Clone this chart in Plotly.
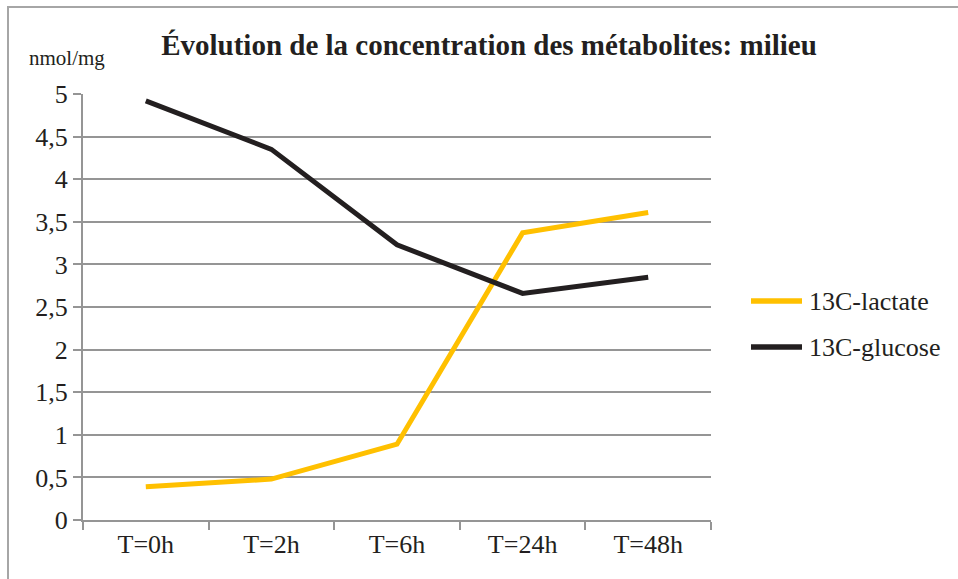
import plotly.graph_objects as go

# Sampling times and measured concentrations (nmol/mg)
times = ["T=0h", "T=2h", "T=6h", "T=24h", "T=48h"]
lactate = [0.39, 0.48, 0.89, 3.37, 3.61]
glucose = [4.92, 4.35, 3.23, 2.66, 2.85]
y_ticks = [0, 0.5, 1, 1.5, 2, 2.5, 3, 3.5, 4, 4.5, 5]

series = [
    ("13C-lactate", lactate, "#FFC000"),
    ("13C-glucose", glucose, "#231F20"),
]

SERIF = "Times New Roman"
INK = "#231F20"
GRID = "#959595"
FS = 26

W, H = 958, 579
L, R, T, B = 83, 247, 94, 59
pw, ph = W - L - R, H - T - B


def px_x(x):
    return (x - L) / pw


def px_y(y):
    return (H - B - y) / ph


fig = go.Figure()
for name, values, color in series:
    fig.add_trace(go.Scatter(
        x=times, y=values, name=name, mode="lines",
        line=dict(color=color, width=5), showlegend=False,
    ))

# Legend drawn to the right of the plot: long colour swatch + label
legend_shapes, legend_labels = [], []
for i, (name, _, color) in enumerate(series):
    yy = px_y(301 + 46 * i)
    legend_shapes.append(dict(
        type="line", xref="paper", yref="paper",
        x0=px_x(751), x1=px_x(802), y0=yy, y1=yy,
        line=dict(color=color, width=5.5),
    ))
    legend_labels.append(dict(
        text=name, xref="paper", yref="paper", x=px_x(807), y=yy,
        xanchor="left", yanchor="middle", showarrow=False,
        font=dict(family=SERIF, size=FS, color=INK),
    ))

fig.update_layout(
    width=W, height=H,
    margin=dict(l=L, r=R, t=T, b=B),
    paper_bgcolor="white", plot_bgcolor="white",
    separators=", ",
    font=dict(family=SERIF, color=INK, size=FS),
    title=dict(
        text="<b>Évolution de la concentration des métabolites: milieu</b>",
        x=489 / W, xanchor="center", y=1 - 45 / H, yanchor="middle",
        font=dict(family=SERIF, size=29, color=INK),
    ),
    showlegend=False,
    xaxis=dict(
        type="category", range=[-0.5, 4.5],
        showgrid=False, zeroline=False,
        showline=True, linecolor=GRID, linewidth=2,
        ticks="outside", tickson="boundaries", ticklen=8,
        tickcolor=GRID, tickwidth=2,
        tickfont=dict(family=SERIF, size=FS, color=INK),
    ),
    yaxis=dict(
        range=[0, 5], tickvals=y_ticks, tickformat=".1~f",
        showgrid=True, gridcolor=GRID, gridwidth=2,
        zeroline=False,
        showline=True, linecolor=GRID, linewidth=2,
        ticks="outside", ticklen=8, tickcolor=GRID, tickwidth=2,
        tickfont=dict(family=SERIF, size=FS, color=INK),
    ),
    annotations=[dict(
        text="nmol/mg", xref="paper", yref="paper",
        x=px_x(67), y=px_y(58), xanchor="center", yanchor="middle",
        showarrow=False, font=dict(family=SERIF, size=21, color=INK),
    )] + legend_labels,
    shapes=[dict(
        type="rect", xref="paper", yref="paper", layer="below",
        x0=px_x(8), y0=px_y(7), x1=px_x(W + 20), y1=px_y(H + 20),
        line=dict(color="#a6a6a6", width=2), fillcolor="rgba(0,0,0,0)",
    )] + legend_shapes,
)

fig.write_html("out.html")
